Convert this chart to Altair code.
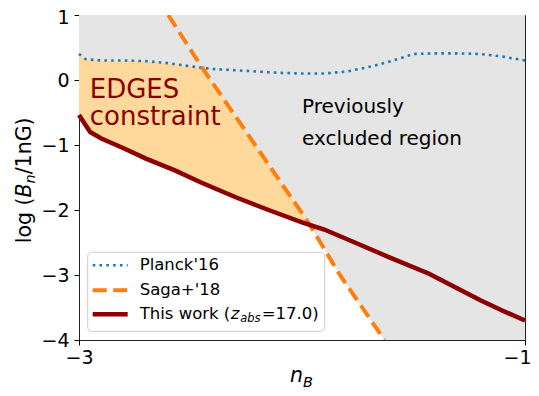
import altair as alt
import numpy as np
import pandas as pd

# ---- data ----
planck_x = [-3.0, -2.97, -2.9, -2.8, -2.7, -2.6, -2.5, -2.4, -2.3, -2.2, -2.1, -2.0,
            -1.9, -1.8, -1.7, -1.6, -1.5, -1.4, -1.3, -1.2, -1.1, -1.0]
planck_y = [0.40, 0.32, 0.30, 0.30, 0.29, 0.26, 0.21, 0.17, 0.15, 0.13, 0.11, 0.10,
            0.10, 0.13, 0.20, 0.29, 0.40, 0.41, 0.41, 0.40, 0.36, 0.30]

saga_x = [-2.60, -2.45, -2.21, -1.97, -1.83, -1.63]
saga_y = [1.0, 0.2, -1.0, -2.2, -3.0, -4.0]

work_x = [-3.0, -2.95, -2.9, -2.8, -2.7, -2.57, -2.45, -2.3, -2.15, -2.0, -1.9,
          -1.75, -1.6, -1.43, -1.3, -1.2, -1.1, -1.0]
work_y = [-0.54, -0.80, -0.90, -1.05, -1.21, -1.39, -1.58, -1.80, -2.00, -2.19, -2.30,
          -2.52, -2.74, -2.98, -3.21, -3.39, -3.55, -3.70]

x_ticks = [-3, -2, -1]
y_ticks = [-4, -3, -2, -1, 0, 1]

FONT = "DejaVu Sans"

# ---- tables ----
planck_df = pd.DataFrame({"x": planck_x, "y": planck_y})
saga_df = pd.DataFrame({"x": saga_x, "y": saga_y})
work_df = pd.DataFrame({"x": work_x, "y": work_y})

grid = np.linspace(-3, -1, 801)
p_i = np.interp(grid, planck_x, planck_y)
s_i = np.interp(grid, saga_x, saga_y, left=5.0, right=-4.0)
r_i = np.interp(grid, work_x, work_y)
upper = np.maximum(np.minimum(p_i, s_i), -4.0)
fill_df = pd.DataFrame({
    "x": grid,
    "upper": upper,
    "top": 1.0,
    "red": r_i,
    "otop": np.maximum(r_i, upper),
})

xscale = alt.Scale(domain=[-3, -1], nice=False, zero=False)
yscale = alt.Scale(domain=[-4, 1], nice=False, zero=False)

axis_common = dict(
    title=None, format="d", labelExpr="replace(datum.label, '-', '−')",
    tickSize=5, tickColor="black", tickWidth=1, labelFontSize=19, labelFont=FONT,
    labelColor="black", domain=False, grid=False, labelFlush=False, labelOverlap=False,
)
xaxis = alt.Axis(
    values=x_ticks, labelPadding=3,
    labelAlign={"condition": {"test": "datum.value == -1", "value": "right"}, "value": "center"},
    labelOffset={"condition": {"test": "datum.value == -1", "value": 6}, "value": 0},
    **axis_common,
)
yaxis = alt.Axis(
    values=y_ticks, labelPadding=5,
    labelOffset={"condition": {"test": "datum.value == 1", "value": 2}, "value": 0},
    **axis_common,
)

gray = alt.Chart(fill_df).mark_area(color="#e5e5e5").encode(
    x=alt.X("x:Q", scale=xscale, axis=xaxis),
    y=alt.Y("upper:Q", scale=yscale, axis=yaxis),
    y2="top:Q",
)
orange = alt.Chart(fill_df).mark_area(color="#fed99b").encode(
    x="x:Q", y="red:Q", y2="otop:Q",
)

planck = alt.Chart(planck_df).mark_line(
    color="#1f77b4", strokeDash=[2.6, 4.2], strokeWidth=2.6, strokeCap="butt"
).encode(x="x:Q", y="y:Q")
saga = alt.Chart(saga_df).mark_line(
    color="#ff7f0e", strokeDash=[14, 6.5], strokeWidth=4, clip=True
).encode(x="x:Q", y="y:Q")
work = alt.Chart(work_df).mark_line(color="#8b0000", strokeWidth=4.5).encode(
    x="x:Q", y="y:Q"
)

ann_df = pd.DataFrame({
    "x": [-2.952, -2.952],
    "y": [-0.28, -0.69],
    "t": ["EDGES", "constraint"],
})
ann2_df = pd.DataFrame({
    "x": [-2.0, -2.0],
    "y": [-0.50, -1.0],
    "t": ["Previously", "excluded region"],
})
edges = alt.Chart(ann_df).mark_text(
    align="left", baseline="alphabetic", font=FONT, fontSize=26, color="#8b0000"
).encode(x="x:Q", y="y:Q", text="t:N")
prev = alt.Chart(ann2_df).mark_text(
    align="left", baseline="alphabetic", font=FONT, fontSize=20, color="black"
).encode(x="x:Q", y="y:Q", text="t:N")

one = pd.DataFrame({"a": [0]})

def vtext(txt, x, y, size, style="normal", align="left", baseline="middle", angle=0, color="black"):
    kw = dict(align=align, baseline=baseline, font=FONT, fontSize=size, fontStyle=style, color=color)
    if angle:
        kw["angle"] = angle
    return alt.Chart(one).mark_text(**kw).encode(
        x=alt.value(x), y=alt.value(y), text=alt.value(txt)
    )

# legend
leg_box = alt.Chart(one).mark_rect(
    fill="white", fillOpacity=0.8, stroke="#cccccc", strokeWidth=1, cornerRadius=4
).encode(x=alt.value(8.7), x2=alt.value(245.7), y=alt.value(237.3), y2=alt.value(316.3))
rows = [250.3, 275.3, 299.3]
leg_planck = alt.Chart(one).mark_rule(
    color="#1f77b4", strokeDash=[2.6, 4.2], strokeWidth=2.6, strokeCap="butt"
).encode(x=alt.value(13.7), x2=alt.value(48.7), y=alt.value(rows[0]))
leg_saga = alt.Chart(one).mark_rule(
    color="#ff7f0e", strokeDash=[14, 6.5], strokeWidth=4
).encode(x=alt.value(13.7), x2=alt.value(48.7), y=alt.value(rows[1]))
leg_work = alt.Chart(one).mark_rule(color="#8b0000", strokeWidth=4.5).encode(
    x=alt.value(13.7), x2=alt.value(48.7), y=alt.value(rows[2])
)
tx = 60.7
lt = [
    vtext("Planck'16", tx, rows[0], 16.5),
    vtext("Saga+'18", tx, rows[1], 16.5),
    vtext("This work (", tx, rows[2], 16.5),
    vtext("z", tx + 91.0, rows[2], 16.5, style="italic"),
    vtext("abs", tx + 100.5, rows[2] + 5, 11.5, style="italic"),
    vtext("=17.0)", tx + 122.0, rows[2], 16.5),
]

# axis titles (with sub/super scripts)
xt = [
    vtext("n", 211.0, 367.0, 20.5, style="italic", baseline="alphabetic"),
    vtext("B", 224.0, 371.5, 14.4, style="italic", baseline="alphabetic"),
]
bx = -48.3
yt = [
    vtext("log (", bx, 228.3, 20.5, baseline="alphabetic", angle=270),
    vtext("B", bx, 182.5, 20.5, style="italic", baseline="alphabetic", angle=270),
    vtext("n", bx + 4, 168.4, 14.4, style="italic", baseline="alphabetic", angle=270),
    vtext("/1nG)", bx, 159.3, 20.5, baseline="alphabetic", angle=270),
]

chart = alt.layer(
    gray, orange, planck, saga, work, edges, prev,
    leg_box, leg_planck, leg_saga, leg_work, *lt, *xt, *yt,
).properties(
    width=446, height=325, autosize="none",
    padding={"left": 71, "top": 7, "right": 6, "bottom": 48},
).configure_view(stroke="#222222", strokeWidth=1)

chart.save("out.html", embed_options={"renderer": "svg", "actions": False})
